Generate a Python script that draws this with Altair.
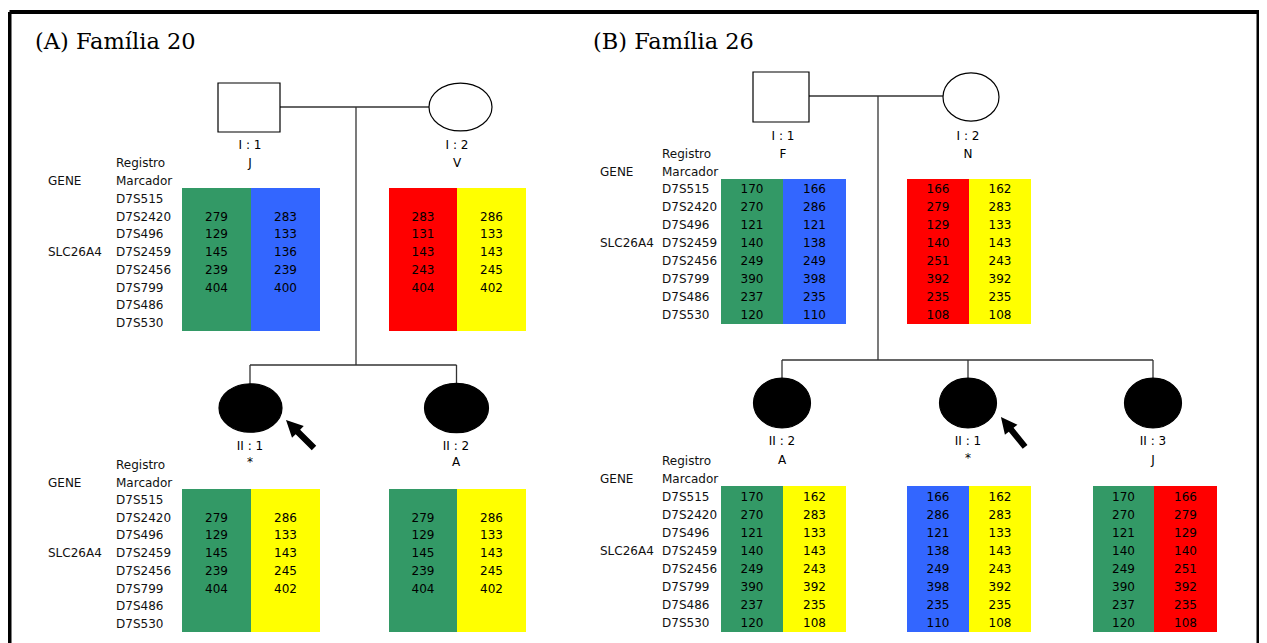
import altair as alt
import pandas as pd

# ---------------- data ----------------
markers = ["D7S515", "D7S2420", "D7S496", "D7S2459", "D7S2456", "D7S799", "D7S486", "D7S530"]
gene_name = "SLC26A4"
titles = ["(A) Família 20", "(B) Família 26"]

# Família 20 (blank = not typed)
f20_I1_a = ["", 279, 129, 145, 239, 404, "", ""]
f20_I1_b = ["", 283, 133, 136, 239, 400, "", ""]
f20_I2_a = ["", 283, 131, 143, 243, 404, "", ""]
f20_I2_b = ["", 286, 133, 143, 245, 402, "", ""]
f20_II1_a = ["", 279, 129, 145, 239, 404, "", ""]
f20_II1_b = ["", 286, 133, 143, 245, 402, "", ""]
f20_II2_a = ["", 279, 129, 145, 239, 404, "", ""]
f20_II2_b = ["", 286, 133, 143, 245, 402, "", ""]

# Família 26
f26_I1_a = [170, 270, 121, 140, 249, 390, 237, 120]
f26_I1_b = [166, 286, 121, 138, 249, 398, 235, 110]
f26_I2_a = [166, 279, 129, 140, 251, 392, 235, 108]
f26_I2_b = [162, 283, 133, 143, 243, 392, 235, 108]
f26_II2_a = [170, 270, 121, 140, 249, 390, 237, 120]
f26_II2_b = [162, 283, 133, 143, 243, 392, 235, 108]
f26_II1_a = [166, 286, 121, 138, 249, 398, 235, 110]
f26_II1_b = [162, 283, 133, 143, 243, 392, 235, 108]
f26_II3_a = [170, 270, 121, 140, 249, 390, 237, 120]
f26_II3_b = [166, 279, 129, 140, 251, 392, 235, 108]

ids = {"A": ["I : 1", "I : 2", "II : 1", "II : 2"],
       "B": ["I : 1", "I : 2", "II : 2", "II : 1", "II : 3"]}
names = {"A": ["J", "V", "*", "A"],
         "B": ["F", "N", "A", "*", "J"]}

# ---------------- styles / layout ----------------
GREEN, BLUE, RED, YELLOW = "#339966", "#3366FF", "#FF0000", "#FFFF00"
SANS = "DejaVu Sans"
SERIF = "DejaVu Serif"
FS = 12

# haplotype tables: (x0, xmid, x1, y0, y1, row0, step, left, right, cl, cr)
tables = [
    (182, 251, 320, 188, 331, 199, 17.7, f20_I1_a, f20_I1_b, GREEN, BLUE),
    (389, 457, 526, 188, 331, 199, 17.7, f20_I2_a, f20_I2_b, RED, YELLOW),
    (182, 251, 320, 489, 632, 500, 17.7, f20_II1_a, f20_II1_b, GREEN, YELLOW),
    (389, 457, 526, 489, 632, 500, 17.7, f20_II2_a, f20_II2_b, GREEN, YELLOW),
    (721, 783, 846, 179, 324, 189, 18.0, f26_I1_a, f26_I1_b, GREEN, BLUE),
    (907, 969, 1031, 179, 324, 189, 18.0, f26_I2_a, f26_I2_b, RED, YELLOW),
    (721, 783, 846, 486, 632, 497, 18.0, f26_II2_a, f26_II2_b, GREEN, YELLOW),
    (907, 969, 1031, 486, 632, 497, 18.0, f26_II1_a, f26_II1_b, BLUE, YELLOW),
    (1093, 1154, 1217, 486, 632, 497, 18.0, f26_II3_a, f26_II3_b, GREEN, RED),
]

# marker legend blocks: (gene_x, marker_x, registro_y, row0, step)
legends = [
    (48, 116, 163, 199, 17.7),
    (48, 116, 465, 500, 17.7),
    (600, 662, 154, 189, 18.0),
    (600, 662, 461, 497, 18.0),
]

# individual labels positions (x, id_y, name_y)
label_pos = {"A": [(250, 145, 163), (457, 145, 163), (250, 446, 462), (456, 446, 462)],
             "B": [(783, 136, 154), (968, 136, 154), (782, 441, 460), (968, 441, 458), (1153, 441, 460)]}

X = alt.X("x:Q", scale=alt.Scale(domain=[8, 1259], nice=False, zero=False), axis=None)
Y = alt.Y("y:Q", scale=alt.Scale(domain=[8, 643], nice=False, zero=False, reverse=True), axis=None)

# ---------------- build tables ----------------
rect_rows, val_rows = [], []
for (x0, xm, x1, y0, y1, r0, st, la, ra, cl, cr) in tables:
    rect_rows.append(dict(x=x0, x2=xm, y=y0, y2=y1, c=cl))
    rect_rows.append(dict(x=xm, x2=x1, y=y0, y2=y1, c=cr))
    for i, (a, b) in enumerate(zip(la, ra)):
        yy = r0 + i * st
        if a != "":
            val_rows.append(dict(x=(x0 + xm) / 2, y=yy, t=str(a)))
        if b != "":
            val_rows.append(dict(x=(xm + x1) / 2, y=yy, t=str(b)))

left_text, center_text = [], []
for (gx, mx, ry, r0, st) in legends:
    left_text.append(dict(x=mx, y=ry, t="Registro"))
    left_text.append(dict(x=mx, y=ry + (r0 - ry) / 2, t="Marcador"))
    left_text.append(dict(x=gx, y=ry + (r0 - ry) / 2, t="GENE"))
    left_text.append(dict(x=gx, y=r0 + 3 * st, t=gene_name))
    for i, m in enumerate(markers):
        left_text.append(dict(x=mx, y=r0 + i * st, t=m))

for fam in ["A", "B"]:
    for (px, iy, ny), iid, nm in zip(label_pos[fam], ids[fam], names[fam]):
        center_text.append(dict(x=px, y=iy, t=iid))
        center_text.append(dict(x=px, y=ny, t=nm))
center_text += val_rows

title_df = pd.DataFrame([dict(x=35, y=42, t=titles[0]), dict(x=593, y=42, t=titles[1])])

rects = alt.Chart(pd.DataFrame(rect_rows)).mark_rect().encode(
    x=X, x2="x2:Q", y=Y, y2="y2:Q", color=alt.Color("c:N", scale=None))

txt_c = alt.Chart(pd.DataFrame(center_text)).mark_text(
    font=SANS, fontSize=FS, align="center", baseline="middle", color="black").encode(x=X, y=Y, text="t:N")
txt_l = alt.Chart(pd.DataFrame(left_text)).mark_text(
    font=SANS, fontSize=FS, align="left", baseline="middle", color="#111").encode(x=X, y=Y, text="t:N")
txt_t = alt.Chart(title_df).mark_text(
    font=SERIF, fontSize=22.5, align="left", baseline="middle", color="black").encode(x=X, y=Y, text="t:N")

# pedigree lines
lines_df = pd.DataFrame([
    # Família 20
    dict(x=280, y=107, x2=429, y2=107),
    dict(x=356, y=107, x2=356, y2=365),
    dict(x=250, y=365, x2=456.5, y2=365),
    dict(x=250, y=365, x2=250, y2=384),
    dict(x=456.5, y=365, x2=456.5, y2=384),
    # Família 26
    dict(x=809, y=96, x2=943, y2=96),
    dict(x=878, y=96, x2=878, y2=360),
    dict(x=782, y=360, x2=1153, y2=360),
    dict(x=782, y=360, x2=782, y2=378),
    dict(x=968, y=360, x2=968, y2=378),
    dict(x=1153, y=360, x2=1153, y2=378),
])
lines = alt.Chart(lines_df).mark_rule(color="#333", strokeWidth=1.3).encode(
    x=X, y=Y, x2="x2:Q", y2="y2:Q")

# frame
frame_df = pd.DataFrame([
    dict(x=9.5, y=12, x2=1259, y2=12),
    dict(x=9.5, y=12, x2=9.5, y2=700),
    dict(x=1258.5, y=12, x2=1258.5, y2=700),
])
frame = alt.Chart(frame_df).mark_rule(color="black", strokeWidth=4).encode(
    x=X, y=Y, x2="x2:Q", y2="y2:Q")

# male squares
sq_df = pd.DataFrame([dict(x=218, x2=280, y=83, y2=132), dict(x=753, x2=809, y=72, y2=122)])
squares = alt.Chart(sq_df).mark_rect(fill="white", stroke="black", strokeWidth=1.2).encode(
    x=X, x2="x2:Q", y=Y, y2="y2:Q")


def ellipse_path(r):
    k = 0.5523
    return (f"M1,0 C1,{k*r:.4f} {k},{r:.4f} 0,{r:.4f} C{-k},{r:.4f} -1,{k*r:.4f} -1,0 "
            f"C-1,{-k*r:.4f} {-k},{-r:.4f} 0,{-r:.4f} C{k},{-r:.4f} 1,{-k*r:.4f} 1,0 Z")


def ell(df, r, fill):
    return alt.Chart(pd.DataFrame(df)).mark_point(
        shape=ellipse_path(r), filled=True, fill=fill, stroke="black", strokeWidth=1.2, opacity=1
    ).encode(x=X, y=Y, size=alt.Size("s:Q", scale=None))

e_open_A = ell([dict(x=460.5, y=107, s=63 ** 2)], 0.76, "white")
e_open_B = ell([dict(x=971, y=97, s=56 ** 2)], 0.86, "white")
e_fill_A = ell([dict(x=250.5, y=408, s=63 ** 2), dict(x=456.5, y=408, s=64 ** 2)], 0.77, "black")
e_fill_B = ell([dict(x=782, y=403, s=57 ** 2), dict(x=968, y=403, s=57 ** 2),
                dict(x=1153, y=403, s=57 ** 2)], 0.875, "black")

ARROW = "M0,-1 L0.42,-0.15 L0.16,-0.15 L0.16,1 L-0.16,1 L-0.16,-0.15 L-0.42,-0.15 Z"
arrow_df = pd.DataFrame([dict(x=300, y=434, s=39.6 ** 2, a=315),
                         dict(x=1013, y=432, s=38.4 ** 2, a=321)])
arrows = alt.Chart(arrow_df).mark_point(shape=ARROW, filled=True, color="black", opacity=1).encode(
    x=X, y=Y, size=alt.Size("s:Q", scale=None), angle=alt.Angle("a:Q", scale=None))

chart = alt.layer(
    rects, lines, squares, e_open_A, e_open_B, e_fill_A, e_fill_B, arrows,
    txt_c, txt_l, txt_t, frame
).properties(
    width=1251, height=635, padding=0, background="white",
    autosize=alt.AutoSizeParams(type="none")
).configure_view(stroke=None)

chart.save("out.html", embed_options={"renderer": "svg", "actions": False})
